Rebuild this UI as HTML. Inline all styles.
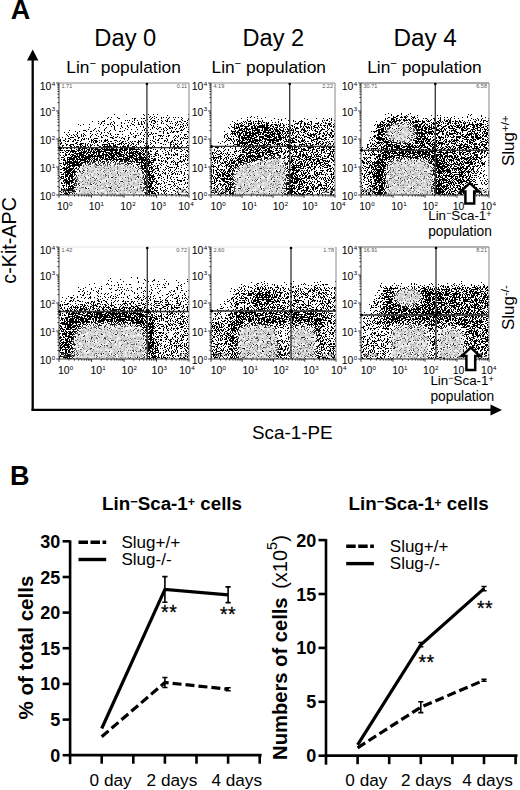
<!DOCTYPE html>
<html><head><meta charset="utf-8"><style>
html,body{margin:0;padding:0;background:#fff;}
svg{display:block;font-family:"Liberation Sans", sans-serif;}
</style></head><body>
<svg width="520" height="790" viewBox="0 0 520 790">
<defs><filter id="stip" x="0" y="0" width="1" height="1" color-interpolation-filters="sRGB">
<feTurbulence type="fractalNoise" baseFrequency="1.3" numOctaves="1" seed="3" result="n"/>
<feColorMatrix in="n" type="matrix" values="1 0 0 0 0  1 0 0 0 0  1 0 0 0 0  0 0 0 0 1" result="nr"/>
<feComponentTransfer in="SourceGraphic" result="t"><feFuncR type="table" tableValues="0.000 0.318 0.357 0.384 0.408 0.431 0.447 0.459 0.475 0.486 0.498 0.514 0.529 0.541 0.557 0.573 0.592 0.616 0.643 0.678 1.000"/><feFuncG type="table" tableValues="0.000 0.318 0.357 0.384 0.408 0.431 0.447 0.459 0.475 0.486 0.498 0.514 0.529 0.541 0.557 0.573 0.592 0.616 0.643 0.678 1.000"/><feFuncB type="table" tableValues="0.000 0.318 0.357 0.384 0.408 0.431 0.447 0.459 0.475 0.486 0.498 0.514 0.529 0.541 0.557 0.573 0.592 0.616 0.643 0.678 1.000"/></feComponentTransfer>
<feComposite in="t" in2="nr" operator="arithmetic" k1="0" k2="1" k3="1" k4="-0.5" result="s"/>
<feComponentTransfer in="s" result="b"><feFuncR type="discrete" tableValues="0 1"/><feFuncG type="discrete" tableValues="0 1"/><feFuncB type="discrete" tableValues="0 1"/><feFuncA type="linear" slope="0" intercept="1"/></feComponentTransfer>
<feGaussianBlur in="b" stdDeviation="0.65"/>
</filter><filter id="bl3" x="-0.5" y="-0.5" width="2" height="2"><feGaussianBlur stdDeviation="3"/></filter><filter id="bl5" x="-0.5" y="-0.5" width="2" height="2"><feGaussianBlur stdDeviation="5"/></filter><filter id="bl2" x="-0.5" y="-0.5" width="2" height="2"><feGaussianBlur stdDeviation="2"/></filter><clipPath id="cp0"><rect x="59" y="83" width="130" height="112"/></clipPath><filter id="b6" x="-0.5" y="-0.5" width="2" height="2"><feGaussianBlur stdDeviation="6"/></filter><filter id="b4" x="-0.5" y="-0.5" width="2" height="2"><feGaussianBlur stdDeviation="4"/></filter><filter id="b5" x="-0.5" y="-0.5" width="2" height="2"><feGaussianBlur stdDeviation="5"/></filter><filter id="b3" x="-0.5" y="-0.5" width="2" height="2"><feGaussianBlur stdDeviation="3"/></filter><filter id="b2_5" x="-0.5" y="-0.5" width="2" height="2"><feGaussianBlur stdDeviation="2.5"/></filter><filter id="m2_5_0_65" x="-0.5" y="-0.5" width="2" height="2" color-interpolation-filters="sRGB"><feGaussianBlur in="SourceGraphic" stdDeviation="2.5" result="b"/><feTurbulence type="fractalNoise" baseFrequency="0.3" numOctaves="2" seed="11" result="n"/><feColorMatrix in="n" type="matrix" values="0 0 0 0 0.8 0 0 0 0 0.8 0 0 0 0 0.8 2.2 0 0 0 -0.450" result="na"/><feComposite in="na" in2="b" operator="in"/></filter><clipPath id="cp1"><rect x="211" y="83" width="124" height="112"/></clipPath><filter id="b3_5" x="-0.5" y="-0.5" width="2" height="2"><feGaussianBlur stdDeviation="3.5"/></filter><filter id="m2_0_65" x="-0.5" y="-0.5" width="2" height="2" color-interpolation-filters="sRGB"><feGaussianBlur in="SourceGraphic" stdDeviation="2" result="b"/><feTurbulence type="fractalNoise" baseFrequency="0.3" numOctaves="2" seed="11" result="n"/><feColorMatrix in="n" type="matrix" values="0 0 0 0 0.8 0 0 0 0 0.8 0 0 0 0 0.8 2.2 0 0 0 -0.450" result="na"/><feComposite in="na" in2="b" operator="in"/></filter><clipPath id="cp2"><rect x="361" y="83" width="128" height="112"/></clipPath><filter id="m2_0_6" x="-0.5" y="-0.5" width="2" height="2" color-interpolation-filters="sRGB"><feGaussianBlur in="SourceGraphic" stdDeviation="2" result="b"/><feTurbulence type="fractalNoise" baseFrequency="0.3" numOctaves="2" seed="11" result="n"/><feColorMatrix in="n" type="matrix" values="0 0 0 0 0.8 0 0 0 0 0.8 0 0 0 0 0.8 2.2 0 0 0 -0.500" result="na"/><feComposite in="na" in2="b" operator="in"/></filter><clipPath id="cp3"><rect x="59" y="247" width="130" height="112"/></clipPath><clipPath id="cp4"><rect x="211" y="247" width="125" height="112"/></clipPath><filter id="m2_0_62" x="-0.5" y="-0.5" width="2" height="2" color-interpolation-filters="sRGB"><feGaussianBlur in="SourceGraphic" stdDeviation="2" result="b"/><feTurbulence type="fractalNoise" baseFrequency="0.3" numOctaves="2" seed="11" result="n"/><feColorMatrix in="n" type="matrix" values="0 0 0 0 0.8 0 0 0 0 0.8 0 0 0 0 0.8 2.2 0 0 0 -0.480" result="na"/><feComposite in="na" in2="b" operator="in"/></filter><clipPath id="cp5"><rect x="361" y="247" width="128" height="112"/></clipPath></defs>
<rect width="520" height="790" fill="#fff"/>
<text x="10.8" y="19.4" font-size="27" font-weight="bold" text-anchor="start" fill="#000" >A</text>
<text x="94.3" y="45.8" font-size="23" font-weight="normal" text-anchor="start" fill="#000" textLength="62" lengthAdjust="spacingAndGlyphs" >Day 0</text>
<text x="242.6" y="45.8" font-size="23" font-weight="normal" text-anchor="start" fill="#000" textLength="61.5" lengthAdjust="spacingAndGlyphs" >Day 2</text>
<text x="393.4" y="45.8" font-size="23" font-weight="normal" text-anchor="start" fill="#000" textLength="63.5" lengthAdjust="spacingAndGlyphs" >Day 4</text>
<text x="66.3" y="73" font-size="17" textLength="114.5" lengthAdjust="spacingAndGlyphs">Lin<tspan font-size="11" dy="-6">&#8722;</tspan><tspan dy="6"> population</tspan></text>
<text x="211.5" y="73" font-size="17" textLength="114.5" lengthAdjust="spacingAndGlyphs">Lin<tspan font-size="11" dy="-6">&#8722;</tspan><tspan dy="6"> population</tspan></text>
<text x="367.2" y="73" font-size="17" textLength="114.5" lengthAdjust="spacingAndGlyphs">Lin<tspan font-size="11" dy="-6">&#8722;</tspan><tspan dy="6"> population</tspan></text>
<line x1="32.7" y1="56" x2="32.7" y2="410.5" stroke="#000" stroke-width="2.3"/>
<path d="M32.7 49.5 L27 60.5 L38.4 60.5 Z" fill="#000"/>
<line x1="31.5" y1="409.8" x2="492" y2="409.8" stroke="#000" stroke-width="2.3"/>
<path d="M502 410 L490.5 404.6 L490.5 415.4 Z" fill="#000"/>
<text x="16.3" y="240.4" font-size="19.5" text-anchor="middle" transform="rotate(-90 16.3 240.4)" textLength="86.5" lengthAdjust="spacingAndGlyphs">c-Kit-APC</text>
<text x="252" y="438.5" font-size="18.5" font-weight="normal" text-anchor="start" fill="#000" textLength="80.7" lengthAdjust="spacingAndGlyphs" >Sca-1-PE</text>
<text transform="translate(514.4 166.1) rotate(-90)" x="0" y="0" font-size="17">Slug<tspan font-size="11.5" dy="-5.3">+/+</tspan></text>
<text transform="translate(514.4 330.0) rotate(-90)" x="0" y="0" font-size="17">Slug<tspan font-size="11.5" dy="-5.3">-/-</tspan></text>
<g clip-path="url(#cp0)"><g filter="url(#stip)">
<rect x="49" y="73" width="150" height="132" fill="#fff"/>
<rect x="54" y="103" width="140" height="100" fill="rgb(249,249,249)" filter="url(#b6)"/>
<path transform="translate(59 83)" d="M-5 62 Q10 44 45 36 Q90 30 140 36 L140 120 L-5 120 Z" fill="rgb(224,224,224)" filter="url(#b4)"/>
<rect x="54" y="137" width="140" height="70" fill="rgb(178,178,178)" filter="url(#b4)"/>
<rect x="151" y="123" width="45" height="80" fill="rgb(189,189,189)" filter="url(#b5)"/>
<rect x="171" y="168" width="30" height="40" fill="rgb(204,204,204)" filter="url(#b5)"/>
<path transform="translate(59 83)" d="M5 118 V88 Q5 64 29 64 H70 Q94 64 94 88 V118 Z" fill="rgb(61,61,61)" filter="url(#b3)"/>
<path transform="translate(59 83)" d="M16 118 V97 Q16 79 34 79 H68 Q86 79 86 97 V118 Z" fill="rgb(204,204,204)" filter="url(#b2_5)"/>
</g>
<path transform="translate(59 83)" d="M18 116 V97 Q18 81 34 81 H68 Q84 81 84 97 V116 Z" fill="#000" filter="url(#m2_5_0_65)"/>
</g>
<line x1="59" y1="83" x2="189" y2="83" stroke="#888" stroke-width="1"/>
<line x1="189" y1="83" x2="189" y2="195" stroke="#888" stroke-width="1"/>
<line x1="59" y1="83" x2="59" y2="195" stroke="#444" stroke-width="1"/>
<line x1="59" y1="195" x2="189" y2="195" stroke="#333" stroke-width="1.2"/>
<line x1="146.9" y1="83" x2="146.9" y2="195" stroke="#333" stroke-width="1.3"/>
<line x1="59" y1="147.7" x2="189" y2="147.7" stroke="#333" stroke-width="1.3"/>
<circle cx="146.9" cy="147.7" r="2" fill="#000"/>
<circle cx="59.5" cy="147.7" r="1.5" fill="#000"/>
<circle cx="146.9" cy="84" r="1.3" fill="#000"/>
<path d="M56.2 195.0H59 M59.0 195V197.8 M57.4 186.6H59 M68.8 195V196.6 M57.4 181.6H59 M74.5 195V196.6 M57.4 178.1H59 M78.6 195V196.6 M57.4 175.4H59 M81.7 195V196.6 M57.4 173.2H59 M84.3 195V196.6 M57.4 171.3H59 M86.5 195V196.6 M57.4 169.7H59 M88.4 195V196.6 M57.4 168.3H59 M90.0 195V196.6 M56.2 167.0H59 M91.5 195V197.8 M57.4 158.6H59 M101.3 195V196.6 M57.4 153.6H59 M107.0 195V196.6 M57.4 150.1H59 M111.1 195V196.6 M57.4 147.4H59 M114.2 195V196.6 M57.4 145.2H59 M116.8 195V196.6 M57.4 143.3H59 M119.0 195V196.6 M57.4 141.7H59 M120.9 195V196.6 M57.4 140.3H59 M122.5 195V196.6 M56.2 139.0H59 M124.0 195V197.8 M57.4 130.6H59 M133.8 195V196.6 M57.4 125.6H59 M139.5 195V196.6 M57.4 122.1H59 M143.6 195V196.6 M57.4 119.4H59 M146.7 195V196.6 M57.4 117.2H59 M149.3 195V196.6 M57.4 115.3H59 M151.5 195V196.6 M57.4 113.7H59 M153.4 195V196.6 M57.4 112.3H59 M155.0 195V196.6 M56.2 111.0H59 M156.5 195V197.8 M57.4 102.6H59 M166.3 195V196.6 M57.4 97.6H59 M172.0 195V196.6 M57.4 94.1H59 M176.1 195V196.6 M57.4 91.4H59 M179.2 195V196.6 M57.4 89.2H59 M181.8 195V196.6 M57.4 87.3H59 M184.0 195V196.6 M57.4 85.7H59 M185.9 195V196.6 M57.4 84.3H59 M187.5 195V196.6 M56.2 83H59 M189 195V197.8" stroke="#222" stroke-width="0.9" fill="none"/>
<text x="39.8" y="200.1" font-size="10" textLength="11.6" lengthAdjust="spacingAndGlyphs">10</text>
<text x="51.8" y="195.7" font-size="6.2">0</text>
<text x="39.8" y="171.9" font-size="10" textLength="11.6" lengthAdjust="spacingAndGlyphs">10</text>
<text x="51.8" y="167.5" font-size="6.2">1</text>
<text x="39.8" y="144.3" font-size="10" textLength="11.6" lengthAdjust="spacingAndGlyphs">10</text>
<text x="51.8" y="139.9" font-size="6.2">2</text>
<text x="39.8" y="115.8" font-size="10" textLength="11.6" lengthAdjust="spacingAndGlyphs">10</text>
<text x="51.8" y="111.4" font-size="6.2">3</text>
<text x="39.8" y="90.2" font-size="10" textLength="11.6" lengthAdjust="spacingAndGlyphs">10</text>
<text x="51.8" y="85.8" font-size="6.2">4</text>
<text x="57.0" y="210.2" font-size="10" textLength="11.6" lengthAdjust="spacingAndGlyphs">10</text>
<text x="68.9" y="205.8" font-size="6.2">0</text>
<text x="88.7" y="210.2" font-size="10" textLength="11.6" lengthAdjust="spacingAndGlyphs">10</text>
<text x="100.6" y="205.8" font-size="6.2">1</text>
<text x="120.3" y="210.2" font-size="10" textLength="11.6" lengthAdjust="spacingAndGlyphs">10</text>
<text x="132.2" y="205.8" font-size="6.2">2</text>
<text x="150.6" y="210.2" font-size="10" textLength="11.6" lengthAdjust="spacingAndGlyphs">10</text>
<text x="162.5" y="205.8" font-size="6.2">3</text>
<text x="178.3" y="210.2" font-size="10" textLength="11.6" lengthAdjust="spacingAndGlyphs">10</text>
<text x="190.2" y="205.8" font-size="6.2">4</text>
<g font-size="5.5" fill="#555"><text x="61.5" y="88.2">1.71</text><text x="187" y="88.2" text-anchor="end">0.11</text><text x="61.5" y="193">65.02</text><text x="187" y="193" text-anchor="end">2.81</text></g>
<g clip-path="url(#cp1)"><g filter="url(#stip)">
<rect x="201" y="73" width="144" height="132" fill="#fff"/>
<rect x="206" y="103" width="140" height="100" fill="rgb(249,249,249)" filter="url(#b6)"/>
<path transform="translate(211 83)" d="M-5 78 Q8 58 25 44 Q60 39 140 41 L140 120 L-5 120 Z" fill="rgb(199,199,199)" filter="url(#b3)"/>
<rect x="238" y="125" width="105" height="24" fill="rgb(122,122,122)" filter="url(#b3_5)"/>
<rect x="293" y="125" width="50" height="22" fill="rgb(153,153,153)" filter="url(#b3_5)"/>
<ellipse cx="255" cy="135" rx="22" ry="12" fill="rgb(76,76,76)" filter="url(#b4)"/>
<rect x="287" y="145" width="50" height="58" fill="rgb(128,128,128)" filter="url(#b4)"/>
<rect x="315" y="163" width="25" height="40" fill="rgb(158,158,158)" filter="url(#b4)"/>
<rect x="206" y="153" width="22" height="50" fill="rgb(158,158,158)" filter="url(#b4)"/>
<ellipse cx="261" cy="180" rx="36" ry="30" fill="rgb(51,51,51)" filter="url(#b3)"/>
<path transform="translate(211 83)" d="M22 120 L22 90 Q23 81 33 80 L66 73 Q76 72 76 81 L75 120 Z" fill="rgb(199,199,199)" filter="url(#b2_5)"/>
</g>
<path transform="translate(211 83)" d="M24 120 L24 90 Q25 83 34 82 L65 75 Q74 74 74 82 L73 120 Z" fill="#000" filter="url(#m2_0_65)"/>
</g>
<line x1="211" y1="83" x2="335" y2="83" stroke="#888" stroke-width="1"/>
<line x1="335" y1="83" x2="335" y2="195" stroke="#888" stroke-width="1"/>
<line x1="211" y1="83" x2="211" y2="195" stroke="#444" stroke-width="1"/>
<line x1="211" y1="195" x2="335" y2="195" stroke="#333" stroke-width="1.2"/>
<line x1="289.7" y1="83" x2="289.7" y2="195" stroke="#333" stroke-width="1.3"/>
<line x1="211" y1="146.4" x2="335" y2="146.4" stroke="#333" stroke-width="1.3"/>
<circle cx="289.7" cy="146.4" r="2" fill="#000"/>
<circle cx="211.5" cy="146.4" r="1.5" fill="#000"/>
<circle cx="289.7" cy="84" r="1.3" fill="#000"/>
<path d="M208.2 195.0H211 M211.0 195V197.8 M209.4 186.6H211 M220.3 195V196.6 M209.4 181.6H211 M225.8 195V196.6 M209.4 178.1H211 M229.7 195V196.6 M209.4 175.4H211 M232.7 195V196.6 M209.4 173.2H211 M235.1 195V196.6 M209.4 171.3H211 M237.2 195V196.6 M209.4 169.7H211 M239.0 195V196.6 M209.4 168.3H211 M240.6 195V196.6 M208.2 167.0H211 M242.0 195V197.8 M209.4 158.6H211 M251.3 195V196.6 M209.4 153.6H211 M256.8 195V196.6 M209.4 150.1H211 M260.7 195V196.6 M209.4 147.4H211 M263.7 195V196.6 M209.4 145.2H211 M266.1 195V196.6 M209.4 143.3H211 M268.2 195V196.6 M209.4 141.7H211 M270.0 195V196.6 M209.4 140.3H211 M271.6 195V196.6 M208.2 139.0H211 M273.0 195V197.8 M209.4 130.6H211 M282.3 195V196.6 M209.4 125.6H211 M287.8 195V196.6 M209.4 122.1H211 M291.7 195V196.6 M209.4 119.4H211 M294.7 195V196.6 M209.4 117.2H211 M297.1 195V196.6 M209.4 115.3H211 M299.2 195V196.6 M209.4 113.7H211 M301.0 195V196.6 M209.4 112.3H211 M302.6 195V196.6 M208.2 111.0H211 M304.0 195V197.8 M209.4 102.6H211 M313.3 195V196.6 M209.4 97.6H211 M318.8 195V196.6 M209.4 94.1H211 M322.7 195V196.6 M209.4 91.4H211 M325.7 195V196.6 M209.4 89.2H211 M328.1 195V196.6 M209.4 87.3H211 M330.2 195V196.6 M209.4 85.7H211 M332.0 195V196.6 M209.4 84.3H211 M333.6 195V196.6 M208.2 83H211 M335 195V197.8" stroke="#222" stroke-width="0.9" fill="none"/>
<text x="191.8" y="200.1" font-size="10" textLength="11.6" lengthAdjust="spacingAndGlyphs">10</text>
<text x="203.8" y="195.7" font-size="6.2">0</text>
<text x="191.8" y="171.9" font-size="10" textLength="11.6" lengthAdjust="spacingAndGlyphs">10</text>
<text x="203.8" y="167.5" font-size="6.2">1</text>
<text x="191.8" y="144.3" font-size="10" textLength="11.6" lengthAdjust="spacingAndGlyphs">10</text>
<text x="203.8" y="139.9" font-size="6.2">2</text>
<text x="191.8" y="115.8" font-size="10" textLength="11.6" lengthAdjust="spacingAndGlyphs">10</text>
<text x="203.8" y="111.4" font-size="6.2">3</text>
<text x="191.8" y="90.2" font-size="10" textLength="11.6" lengthAdjust="spacingAndGlyphs">10</text>
<text x="203.8" y="85.8" font-size="6.2">4</text>
<text x="210.4" y="210.2" font-size="10" textLength="11.6" lengthAdjust="spacingAndGlyphs">10</text>
<text x="222.3" y="205.8" font-size="6.2">0</text>
<text x="241.6" y="210.2" font-size="10" textLength="11.6" lengthAdjust="spacingAndGlyphs">10</text>
<text x="253.5" y="205.8" font-size="6.2">1</text>
<text x="272.8" y="210.2" font-size="10" textLength="11.6" lengthAdjust="spacingAndGlyphs">10</text>
<text x="284.7" y="205.8" font-size="6.2">2</text>
<text x="302.2" y="210.2" font-size="10" textLength="11.6" lengthAdjust="spacingAndGlyphs">10</text>
<text x="314.1" y="205.8" font-size="6.2">3</text>
<text x="330.2" y="210.2" font-size="10" textLength="11.6" lengthAdjust="spacingAndGlyphs">10</text>
<text x="342.1" y="205.8" font-size="6.2">4</text>
<g font-size="5.5" fill="#555"><text x="213.5" y="88.2">4.19</text><text x="333" y="88.2" text-anchor="end">2.22</text><text x="213.5" y="193">81.15</text><text x="333" y="193" text-anchor="end">10.8</text></g>
<g clip-path="url(#cp2)"><g filter="url(#stip)">
<rect x="351" y="73" width="148" height="132" fill="#fff"/>
<rect x="356" y="103" width="140" height="100" fill="rgb(249,249,249)" filter="url(#b6)"/>
<path transform="translate(361 83)" d="M-5 100 Q4 60 18 42 Q60 37 140 38 L140 120 L-5 120 Z" fill="rgb(178,178,178)" filter="url(#b3)"/>
<path transform="translate(361 83)" d="M20 66 Q18 45 30 40 L128 40 L128 120 L20 120 Z" fill="rgb(115,115,115)" filter="url(#b3_5)"/>
<rect x="435" y="151" width="56" height="52" fill="rgb(115,115,115)" filter="url(#b4)"/>
<path transform="translate(361 83)" d="M98 118 L134 60 L134 118 Z" fill="rgb(217,217,217)" filter="url(#b4)"/>
<rect x="356" y="155" width="22" height="50" fill="rgb(173,173,173)" filter="url(#b4)"/>
<rect x="423" y="123" width="70" height="30" fill="rgb(133,133,133)" filter="url(#b4)"/>
<ellipse cx="401" cy="133" rx="24" ry="16" fill="rgb(46,46,46)" filter="url(#b3)"/>
<ellipse cx="401" cy="133" rx="16" ry="11" fill="rgb(204,204,204)" filter="url(#b2_5)"/>
<path transform="translate(361 83)" d="M13 120 V86 Q13 66 33 66 H62 Q82 66 82 86 V120 Z" fill="rgb(43,43,43)" filter="url(#b3)"/>
<path transform="translate(361 83)" d="M24 120 V90 Q24 75 39 75 H58 Q73 75 73 90 V120 Z" fill="rgb(199,199,199)" filter="url(#b2_5)"/>
</g>
<ellipse cx="401" cy="133" rx="14.5" ry="9.5" fill="#000" filter="url(#m2_0_6)"/>
<path transform="translate(361 83)" d="M26 116 V91 Q26 77 40 77 H57 Q71 77 71 91 V116 Z" fill="#000" filter="url(#m2_0_65)"/>
</g>
<line x1="361" y1="83" x2="489" y2="83" stroke="#555" stroke-width="1"/>
<line x1="489" y1="83" x2="489" y2="195" stroke="#888" stroke-width="1"/>
<line x1="361" y1="83" x2="361" y2="195" stroke="#444" stroke-width="1"/>
<line x1="361" y1="195" x2="489" y2="195" stroke="#333" stroke-width="1.2"/>
<line x1="435.3" y1="83" x2="435.3" y2="195" stroke="#333" stroke-width="1.3"/>
<line x1="361" y1="150.3" x2="489" y2="150.3" stroke="#333" stroke-width="1.3"/>
<circle cx="435.3" cy="150.3" r="2" fill="#000"/>
<circle cx="361.5" cy="150.3" r="1.5" fill="#000"/>
<circle cx="435.3" cy="84" r="1.3" fill="#000"/>
<path d="M358.2 195.0H361 M361.0 195V197.8 M359.4 186.6H361 M370.6 195V196.6 M359.4 181.6H361 M376.3 195V196.6 M359.4 178.1H361 M380.3 195V196.6 M359.4 175.4H361 M383.4 195V196.6 M359.4 173.2H361 M385.9 195V196.6 M359.4 171.3H361 M388.0 195V196.6 M359.4 169.7H361 M389.9 195V196.6 M359.4 168.3H361 M391.5 195V196.6 M358.2 167.0H361 M393.0 195V197.8 M359.4 158.6H361 M402.6 195V196.6 M359.4 153.6H361 M408.3 195V196.6 M359.4 150.1H361 M412.3 195V196.6 M359.4 147.4H361 M415.4 195V196.6 M359.4 145.2H361 M417.9 195V196.6 M359.4 143.3H361 M420.0 195V196.6 M359.4 141.7H361 M421.9 195V196.6 M359.4 140.3H361 M423.5 195V196.6 M358.2 139.0H361 M425.0 195V197.8 M359.4 130.6H361 M434.6 195V196.6 M359.4 125.6H361 M440.3 195V196.6 M359.4 122.1H361 M444.3 195V196.6 M359.4 119.4H361 M447.4 195V196.6 M359.4 117.2H361 M449.9 195V196.6 M359.4 115.3H361 M452.0 195V196.6 M359.4 113.7H361 M453.9 195V196.6 M359.4 112.3H361 M455.5 195V196.6 M358.2 111.0H361 M457.0 195V197.8 M359.4 102.6H361 M466.6 195V196.6 M359.4 97.6H361 M472.3 195V196.6 M359.4 94.1H361 M476.3 195V196.6 M359.4 91.4H361 M479.4 195V196.6 M359.4 89.2H361 M481.9 195V196.6 M359.4 87.3H361 M484.0 195V196.6 M359.4 85.7H361 M485.9 195V196.6 M359.4 84.3H361 M487.5 195V196.6 M358.2 83H361 M489 195V197.8" stroke="#222" stroke-width="0.9" fill="none"/>
<text x="341.8" y="200.1" font-size="10" textLength="11.6" lengthAdjust="spacingAndGlyphs">10</text>
<text x="353.8" y="195.7" font-size="6.2">0</text>
<text x="341.8" y="171.9" font-size="10" textLength="11.6" lengthAdjust="spacingAndGlyphs">10</text>
<text x="353.8" y="167.5" font-size="6.2">1</text>
<text x="341.8" y="144.3" font-size="10" textLength="11.6" lengthAdjust="spacingAndGlyphs">10</text>
<text x="353.8" y="139.9" font-size="6.2">2</text>
<text x="341.8" y="115.8" font-size="10" textLength="11.6" lengthAdjust="spacingAndGlyphs">10</text>
<text x="353.8" y="111.4" font-size="6.2">3</text>
<text x="341.8" y="90.2" font-size="10" textLength="11.6" lengthAdjust="spacingAndGlyphs">10</text>
<text x="353.8" y="85.8" font-size="6.2">4</text>
<text x="359.3" y="210.2" font-size="10" textLength="11.6" lengthAdjust="spacingAndGlyphs">10</text>
<text x="371.2" y="205.8" font-size="6.2">0</text>
<text x="391.3" y="210.2" font-size="10" textLength="11.6" lengthAdjust="spacingAndGlyphs">10</text>
<text x="403.2" y="205.8" font-size="6.2">1</text>
<text x="422.5" y="210.2" font-size="10" textLength="11.6" lengthAdjust="spacingAndGlyphs">10</text>
<text x="434.4" y="205.8" font-size="6.2">2</text>
<text x="452.8" y="210.2" font-size="10" textLength="11.6" lengthAdjust="spacingAndGlyphs">10</text>
<text x="480.5" y="210.2" font-size="10" textLength="11.6" lengthAdjust="spacingAndGlyphs">10</text>
<text x="492.4" y="205.8" font-size="6.2">4</text>
<g font-size="5.5" fill="#555"><text x="363.5" y="88.2">30.71</text><text x="487" y="88.2" text-anchor="end">6.58</text><text x="363.5" y="193">53.5</text><text x="487" y="193" text-anchor="end">9.0</text></g>
<g clip-path="url(#cp3)"><g filter="url(#stip)">
<rect x="49" y="237" width="150" height="132" fill="#fff"/>
<rect x="54" y="267" width="140" height="100" fill="rgb(249,249,249)" filter="url(#b6)"/>
<path transform="translate(59 247)" d="M-5 62 Q10 42 45 35 Q90 30 140 36 L140 120 L-5 120 Z" fill="rgb(224,224,224)" filter="url(#b4)"/>
<rect x="54" y="300" width="140" height="70" fill="rgb(171,171,171)" filter="url(#b4)"/>
<rect x="154" y="317" width="40" height="50" fill="rgb(178,178,178)" filter="url(#b5)"/>
<path transform="translate(59 247)" d="M3 118 V84 Q3 62 25 62 H75 Q97 62 97 84 V118 Z" fill="rgb(61,61,61)" filter="url(#b3)"/>
<path transform="translate(59 247)" d="M14 118 V95 Q14 77 32 77 H70 Q88 77 88 95 V118 Z" fill="rgb(204,204,204)" filter="url(#b2_5)"/>
</g>
<path transform="translate(59 247)" d="M16 116 V95 Q16 79 32 79 H70 Q86 79 86 95 V116 Z" fill="#000" filter="url(#m2_5_0_65)"/>
</g>
<line x1="59" y1="247" x2="189" y2="247" stroke="#e6e6e6" stroke-width="1"/>
<line x1="189" y1="247" x2="189" y2="359" stroke="#888" stroke-width="1"/>
<line x1="59" y1="247" x2="59" y2="359" stroke="#444" stroke-width="1"/>
<line x1="59" y1="359" x2="189" y2="359" stroke="#333" stroke-width="1.2"/>
<line x1="147.3" y1="247" x2="147.3" y2="359" stroke="#333" stroke-width="1.3"/>
<line x1="59" y1="311.5" x2="189" y2="311.5" stroke="#333" stroke-width="1.3"/>
<circle cx="147.3" cy="311.5" r="2" fill="#000"/>
<circle cx="59.5" cy="311.5" r="1.5" fill="#000"/>
<circle cx="147.3" cy="248" r="1.3" fill="#000"/>
<path d="M56.2 359.0H59 M59.0 359V361.8 M57.4 350.6H59 M68.8 359V360.6 M57.4 345.6H59 M74.5 359V360.6 M57.4 342.1H59 M78.6 359V360.6 M57.4 339.4H59 M81.7 359V360.6 M57.4 337.2H59 M84.3 359V360.6 M57.4 335.3H59 M86.5 359V360.6 M57.4 333.7H59 M88.4 359V360.6 M57.4 332.3H59 M90.0 359V360.6 M56.2 331.0H59 M91.5 359V361.8 M57.4 322.6H59 M101.3 359V360.6 M57.4 317.6H59 M107.0 359V360.6 M57.4 314.1H59 M111.1 359V360.6 M57.4 311.4H59 M114.2 359V360.6 M57.4 309.2H59 M116.8 359V360.6 M57.4 307.3H59 M119.0 359V360.6 M57.4 305.7H59 M120.9 359V360.6 M57.4 304.3H59 M122.5 359V360.6 M56.2 303.0H59 M124.0 359V361.8 M57.4 294.6H59 M133.8 359V360.6 M57.4 289.6H59 M139.5 359V360.6 M57.4 286.1H59 M143.6 359V360.6 M57.4 283.4H59 M146.7 359V360.6 M57.4 281.2H59 M149.3 359V360.6 M57.4 279.3H59 M151.5 359V360.6 M57.4 277.7H59 M153.4 359V360.6 M57.4 276.3H59 M155.0 359V360.6 M56.2 275.0H59 M156.5 359V361.8 M57.4 266.6H59 M166.3 359V360.6 M57.4 261.6H59 M172.0 359V360.6 M57.4 258.1H59 M176.1 359V360.6 M57.4 255.4H59 M179.2 359V360.6 M57.4 253.2H59 M181.8 359V360.6 M57.4 251.3H59 M184.0 359V360.6 M57.4 249.7H59 M185.9 359V360.6 M57.4 248.3H59 M187.5 359V360.6 M56.2 247H59 M189 359V361.8" stroke="#222" stroke-width="0.9" fill="none"/>
<text x="39.8" y="364.1" font-size="10" textLength="11.6" lengthAdjust="spacingAndGlyphs">10</text>
<text x="51.8" y="359.7" font-size="6.2">0</text>
<text x="39.8" y="335.9" font-size="10" textLength="11.6" lengthAdjust="spacingAndGlyphs">10</text>
<text x="51.8" y="331.5" font-size="6.2">1</text>
<text x="39.8" y="308.3" font-size="10" textLength="11.6" lengthAdjust="spacingAndGlyphs">10</text>
<text x="51.8" y="303.9" font-size="6.2">2</text>
<text x="39.8" y="279.8" font-size="10" textLength="11.6" lengthAdjust="spacingAndGlyphs">10</text>
<text x="51.8" y="275.4" font-size="6.2">3</text>
<text x="39.8" y="254.2" font-size="10" textLength="11.6" lengthAdjust="spacingAndGlyphs">10</text>
<text x="51.8" y="249.8" font-size="6.2">4</text>
<text x="57.9" y="374.2" font-size="10" textLength="11.6" lengthAdjust="spacingAndGlyphs">10</text>
<text x="69.8" y="369.8" font-size="6.2">0</text>
<text x="90.4" y="374.2" font-size="10" textLength="11.6" lengthAdjust="spacingAndGlyphs">10</text>
<text x="102.3" y="369.8" font-size="6.2">1</text>
<text x="121.6" y="374.2" font-size="10" textLength="11.6" lengthAdjust="spacingAndGlyphs">10</text>
<text x="133.5" y="369.8" font-size="6.2">2</text>
<text x="151.6" y="374.2" font-size="10" textLength="11.6" lengthAdjust="spacingAndGlyphs">10</text>
<text x="163.5" y="369.8" font-size="6.2">3</text>
<text x="179.3" y="374.2" font-size="10" textLength="11.6" lengthAdjust="spacingAndGlyphs">10</text>
<text x="191.2" y="369.8" font-size="6.2">4</text>
<g font-size="5.5" fill="#555"><text x="61.5" y="252.2">1.42</text><text x="187" y="252.2" text-anchor="end">0.72</text><text x="61.5" y="357">52.42</text><text x="187" y="357" text-anchor="end">4.6</text></g>
<g clip-path="url(#cp4)"><g filter="url(#stip)">
<rect x="201" y="237" width="145" height="132" fill="#fff"/>
<rect x="206" y="267" width="140" height="100" fill="rgb(249,249,249)" filter="url(#b6)"/>
<path transform="translate(211 247)" d="M-5 90 Q6 60 25 44 Q70 38 140 39 L140 120 L-5 120 Z" fill="rgb(189,189,189)" filter="url(#b3)"/>
<rect x="237" y="288" width="105" height="24" fill="rgb(158,158,158)" filter="url(#b3_5)"/>
<ellipse cx="264" cy="298" rx="12" ry="9" fill="rgb(64,64,64)" filter="url(#b3)"/>
<rect x="231" y="310" width="95" height="16" fill="rgb(92,92,92)" filter="url(#b3)"/>
<path transform="translate(211 247)" d="M18 120 V84 Q18 70 32 70 H98 Q112 70 112 84 V120 Z" fill="rgb(71,71,71)" filter="url(#b3)"/>
<rect x="206" y="317" width="18" height="50" fill="rgb(153,153,153)" filter="url(#b4)"/>
<rect x="323" y="322" width="30" height="50" fill="rgb(153,153,153)" filter="url(#b4)"/>
<path transform="translate(211 247)" d="M26 118 V89 Q26 77 38 77 H94 Q106 77 106 89 V118 Z" fill="rgb(194,194,194)" filter="url(#b2_5)"/>
<ellipse cx="283" cy="353" rx="9" ry="12" fill="rgb(115,115,115)" filter="url(#b3)"/>
</g>
<path transform="translate(211 247)" d="M28 116 V90 Q28 79 39 79 H55 Q66 79 66 90 V116 Z" fill="#000" filter="url(#m2_0_62)"/>
<path transform="translate(211 247)" d="M79 116 V89 Q79 80 88 80 H95 Q104 80 104 89 V116 Z" fill="#000" filter="url(#m2_0_62)"/>
</g>
<line x1="211" y1="247" x2="336" y2="247" stroke="#e6e6e6" stroke-width="1"/>
<line x1="336" y1="247" x2="336" y2="359" stroke="#888" stroke-width="1"/>
<line x1="211" y1="247" x2="211" y2="359" stroke="#444" stroke-width="1"/>
<line x1="211" y1="359" x2="336" y2="359" stroke="#333" stroke-width="1.2"/>
<line x1="291" y1="247" x2="291" y2="359" stroke="#333" stroke-width="1.3"/>
<line x1="211" y1="311" x2="336" y2="311" stroke="#333" stroke-width="1.3"/>
<circle cx="291" cy="311" r="2" fill="#000"/>
<circle cx="211.5" cy="311" r="1.5" fill="#000"/>
<circle cx="291" cy="248" r="1.3" fill="#000"/>
<path d="M208.2 359.0H211 M211.0 359V361.8 M209.4 350.6H211 M220.4 359V360.6 M209.4 345.6H211 M225.9 359V360.6 M209.4 342.1H211 M229.8 359V360.6 M209.4 339.4H211 M232.8 359V360.6 M209.4 337.2H211 M235.3 359V360.6 M209.4 335.3H211 M237.4 359V360.6 M209.4 333.7H211 M239.2 359V360.6 M209.4 332.3H211 M240.8 359V360.6 M208.2 331.0H211 M242.2 359V361.8 M209.4 322.6H211 M251.7 359V360.6 M209.4 317.6H211 M257.2 359V360.6 M209.4 314.1H211 M261.1 359V360.6 M209.4 311.4H211 M264.1 359V360.6 M209.4 309.2H211 M266.6 359V360.6 M209.4 307.3H211 M268.7 359V360.6 M209.4 305.7H211 M270.5 359V360.6 M209.4 304.3H211 M272.1 359V360.6 M208.2 303.0H211 M273.5 359V361.8 M209.4 294.6H211 M282.9 359V360.6 M209.4 289.6H211 M288.4 359V360.6 M209.4 286.1H211 M292.3 359V360.6 M209.4 283.4H211 M295.3 359V360.6 M209.4 281.2H211 M297.8 359V360.6 M209.4 279.3H211 M299.9 359V360.6 M209.4 277.7H211 M301.7 359V360.6 M209.4 276.3H211 M303.3 359V360.6 M208.2 275.0H211 M304.8 359V361.8 M209.4 266.6H211 M314.2 359V360.6 M209.4 261.6H211 M319.7 359V360.6 M209.4 258.1H211 M323.6 359V360.6 M209.4 255.4H211 M326.6 359V360.6 M209.4 253.2H211 M329.1 359V360.6 M209.4 251.3H211 M331.2 359V360.6 M209.4 249.7H211 M333.0 359V360.6 M209.4 248.3H211 M334.6 359V360.6 M208.2 247H211 M336 359V361.8" stroke="#222" stroke-width="0.9" fill="none"/>
<text x="191.8" y="364.1" font-size="10" textLength="11.6" lengthAdjust="spacingAndGlyphs">10</text>
<text x="203.8" y="359.7" font-size="6.2">0</text>
<text x="191.8" y="335.9" font-size="10" textLength="11.6" lengthAdjust="spacingAndGlyphs">10</text>
<text x="203.8" y="331.5" font-size="6.2">1</text>
<text x="191.8" y="308.3" font-size="10" textLength="11.6" lengthAdjust="spacingAndGlyphs">10</text>
<text x="203.8" y="303.9" font-size="6.2">2</text>
<text x="191.8" y="279.8" font-size="10" textLength="11.6" lengthAdjust="spacingAndGlyphs">10</text>
<text x="203.8" y="275.4" font-size="6.2">3</text>
<text x="191.8" y="254.2" font-size="10" textLength="11.6" lengthAdjust="spacingAndGlyphs">10</text>
<text x="203.8" y="249.8" font-size="6.2">4</text>
<text x="210.7" y="374.2" font-size="10" textLength="11.6" lengthAdjust="spacingAndGlyphs">10</text>
<text x="222.6" y="369.8" font-size="6.2">0</text>
<text x="242.5" y="374.2" font-size="10" textLength="11.6" lengthAdjust="spacingAndGlyphs">10</text>
<text x="254.4" y="369.8" font-size="6.2">1</text>
<text x="273.3" y="374.2" font-size="10" textLength="11.6" lengthAdjust="spacingAndGlyphs">10</text>
<text x="285.2" y="369.8" font-size="6.2">2</text>
<text x="303.3" y="374.2" font-size="10" textLength="11.6" lengthAdjust="spacingAndGlyphs">10</text>
<text x="315.2" y="369.8" font-size="6.2">3</text>
<text x="331.0" y="374.2" font-size="10" textLength="11.6" lengthAdjust="spacingAndGlyphs">10</text>
<text x="342.9" y="369.8" font-size="6.2">4</text>
<g font-size="5.5" fill="#555"><text x="213.5" y="252.2">2.60</text><text x="334" y="252.2" text-anchor="end">1.78</text><text x="213.5" y="357">73.74</text><text x="334" y="357" text-anchor="end">22.46</text></g>
<g clip-path="url(#cp5)"><g filter="url(#stip)">
<rect x="351" y="237" width="148" height="132" fill="#fff"/>
<rect x="356" y="267" width="140" height="100" fill="rgb(247,247,247)" filter="url(#b6)"/>
<path transform="translate(361 247)" d="M-5 105 Q6 62 22 42 Q70 40 140 41 L140 120 L-5 120 Z" fill="rgb(173,173,173)" filter="url(#b2_5)"/>
<rect x="383" y="288.5" width="108" height="38" fill="rgb(76,76,76)" filter="url(#b2_5)"/>
<rect x="441" y="291" width="50" height="34" fill="rgb(107,107,107)" filter="url(#b4)"/>
<rect x="473" y="332" width="20" height="35" fill="rgb(153,153,153)" filter="url(#b4)"/>
<rect x="466" y="329" width="30" height="40" fill="rgb(128,128,128)" filter="url(#b4)"/>
<rect x="356" y="323" width="26" height="45" fill="rgb(173,173,173)" filter="url(#b4)"/>
<rect x="429" y="339" width="10" height="30" fill="rgb(128,128,128)" filter="url(#b3)"/>
<ellipse cx="408" cy="297" rx="15" ry="9.5" fill="rgb(204,204,204)" filter="url(#b2_5)"/>
<path transform="translate(361 247)" d="M28 118 V88 Q28 76 40 76 H58 Q70 76 70 88 V118 Z" fill="rgb(194,194,194)" filter="url(#b2_5)"/>
<path transform="translate(361 247)" d="M75 118 V89 Q75 79 85 79 H95 Q105 79 105 89 V118 Z" fill="rgb(194,194,194)" filter="url(#b2_5)"/>
</g>
<ellipse cx="408" cy="297" rx="13" ry="8" fill="#000" filter="url(#m2_0_65)"/>
<path transform="translate(361 247)" d="M31 116 V90 Q31 79 42 79 H56 Q67 79 67 90 V116 Z" fill="#000" filter="url(#m2_0_6)"/>
<path transform="translate(361 247)" d="M78 116 V91 Q78 82 87 82 H93 Q102 82 102 91 V116 Z" fill="#000" filter="url(#m2_0_6)"/>
</g>
<line x1="361" y1="247" x2="489" y2="247" stroke="#666" stroke-width="1"/>
<line x1="489" y1="247" x2="489" y2="359" stroke="#888" stroke-width="1"/>
<line x1="361" y1="247" x2="361" y2="359" stroke="#444" stroke-width="1"/>
<line x1="361" y1="359" x2="489" y2="359" stroke="#333" stroke-width="1.2"/>
<line x1="436" y1="247" x2="436" y2="359" stroke="#333" stroke-width="1.3"/>
<line x1="361" y1="315" x2="489" y2="315" stroke="#333" stroke-width="1.3"/>
<circle cx="436" cy="315" r="2" fill="#000"/>
<circle cx="361.5" cy="315" r="1.5" fill="#000"/>
<circle cx="436" cy="248" r="1.3" fill="#000"/>
<path d="M358.2 359.0H361 M361.0 359V361.8 M359.4 350.6H361 M370.6 359V360.6 M359.4 345.6H361 M376.3 359V360.6 M359.4 342.1H361 M380.3 359V360.6 M359.4 339.4H361 M383.4 359V360.6 M359.4 337.2H361 M385.9 359V360.6 M359.4 335.3H361 M388.0 359V360.6 M359.4 333.7H361 M389.9 359V360.6 M359.4 332.3H361 M391.5 359V360.6 M358.2 331.0H361 M393.0 359V361.8 M359.4 322.6H361 M402.6 359V360.6 M359.4 317.6H361 M408.3 359V360.6 M359.4 314.1H361 M412.3 359V360.6 M359.4 311.4H361 M415.4 359V360.6 M359.4 309.2H361 M417.9 359V360.6 M359.4 307.3H361 M420.0 359V360.6 M359.4 305.7H361 M421.9 359V360.6 M359.4 304.3H361 M423.5 359V360.6 M358.2 303.0H361 M425.0 359V361.8 M359.4 294.6H361 M434.6 359V360.6 M359.4 289.6H361 M440.3 359V360.6 M359.4 286.1H361 M444.3 359V360.6 M359.4 283.4H361 M447.4 359V360.6 M359.4 281.2H361 M449.9 359V360.6 M359.4 279.3H361 M452.0 359V360.6 M359.4 277.7H361 M453.9 359V360.6 M359.4 276.3H361 M455.5 359V360.6 M358.2 275.0H361 M457.0 359V361.8 M359.4 266.6H361 M466.6 359V360.6 M359.4 261.6H361 M472.3 359V360.6 M359.4 258.1H361 M476.3 359V360.6 M359.4 255.4H361 M479.4 359V360.6 M359.4 253.2H361 M481.9 359V360.6 M359.4 251.3H361 M484.0 359V360.6 M359.4 249.7H361 M485.9 359V360.6 M359.4 248.3H361 M487.5 359V360.6 M358.2 247H361 M489 359V361.8" stroke="#222" stroke-width="0.9" fill="none"/>
<text x="341.8" y="364.1" font-size="10" textLength="11.6" lengthAdjust="spacingAndGlyphs">10</text>
<text x="353.8" y="359.7" font-size="6.2">0</text>
<text x="341.8" y="335.9" font-size="10" textLength="11.6" lengthAdjust="spacingAndGlyphs">10</text>
<text x="353.8" y="331.5" font-size="6.2">1</text>
<text x="341.8" y="308.3" font-size="10" textLength="11.6" lengthAdjust="spacingAndGlyphs">10</text>
<text x="353.8" y="303.9" font-size="6.2">2</text>
<text x="341.8" y="279.8" font-size="10" textLength="11.6" lengthAdjust="spacingAndGlyphs">10</text>
<text x="353.8" y="275.4" font-size="6.2">3</text>
<text x="341.8" y="254.2" font-size="10" textLength="11.6" lengthAdjust="spacingAndGlyphs">10</text>
<text x="353.8" y="249.8" font-size="6.2">4</text>
<text x="360.7" y="374.2" font-size="10" textLength="11.6" lengthAdjust="spacingAndGlyphs">10</text>
<text x="372.6" y="369.8" font-size="6.2">0</text>
<text x="392.2" y="374.2" font-size="10" textLength="11.6" lengthAdjust="spacingAndGlyphs">10</text>
<text x="404.1" y="369.8" font-size="6.2">1</text>
<text x="423.1" y="374.2" font-size="10" textLength="11.6" lengthAdjust="spacingAndGlyphs">10</text>
<text x="435.0" y="369.8" font-size="6.2">2</text>
<text x="452.8" y="374.2" font-size="10" textLength="11.6" lengthAdjust="spacingAndGlyphs">10</text>
<text x="481.1" y="374.2" font-size="10" textLength="11.6" lengthAdjust="spacingAndGlyphs">10</text>
<text x="493.0" y="369.8" font-size="6.2">4</text>
<g font-size="5.5" fill="#555"><text x="363.5" y="252.2">16.91</text><text x="487" y="252.2" text-anchor="end">8.21</text><text x="363.5" y="357">42.64</text><text x="487" y="357" text-anchor="end">8.1</text></g>
<path d="M469.8 183.2 L460.6 191.6 L465.40000000000003 191.6 L465.40000000000003 203.6 L474.2 203.6 L474.2 191.6 L479.0 191.6 Z" fill="#fff" stroke="#000" stroke-width="2.5" stroke-linejoin="miter"/>
<path d="M470.8 347.6 L461.6 356 L466.40000000000003 356 L466.40000000000003 370 L475.2 370 L475.2 356 L480.0 356 Z" fill="#fff" stroke="#000" stroke-width="2.5" stroke-linejoin="miter"/>
<text x="428.2" y="219.6" font-size="13.4">Lin<tspan font-size="9" dy="-3.5">&#8722;</tspan><tspan dy="3.5">Sca-1</tspan><tspan font-size="9" dy="-3">+</tspan></text>
<text x="428.2" y="235.6" font-size="13.8">population</text>
<text x="430.4" y="384.7" font-size="13.4">Lin<tspan font-size="9" dy="-3.5">&#8722;</tspan><tspan dy="3.5">Sca-1</tspan><tspan font-size="9" dy="-3">+</tspan></text>
<text x="430.4" y="400.7" font-size="13.8">population</text>
<text x="10" y="485.2" font-size="27" font-weight="bold" text-anchor="start" fill="#000" >B</text>
<text x="102" y="510" font-size="18.8" font-weight="bold" textLength="140" lengthAdjust="spacingAndGlyphs">Lin<tspan font-size="13" dy="-4">&#8722;</tspan><tspan dy="4">Sca-1</tspan><tspan font-size="12.5" dy="-3.6">+</tspan><tspan dy="3.6"> cells</tspan></text>
<text x="348.6" y="510.2" font-size="18.8" font-weight="bold" textLength="140" lengthAdjust="spacingAndGlyphs">Lin<tspan font-size="13" dy="-4">&#8722;</tspan><tspan dy="4">Sca-1</tspan><tspan font-size="12.5" dy="-3.6">+</tspan><tspan dy="3.6"> cells</tspan></text>
<line x1="70.1" y1="540.3000000000001" x2="70.1" y2="764.2" stroke="#000" stroke-width="2.6"/>
<line x1="70.1" y1="755.2" x2="261.6" y2="755.2" stroke="#000" stroke-width="2.8"/>
<line x1="101.7" y1="755.2" x2="101.7" y2="763.7" stroke="#000" stroke-width="2.6"/>
<line x1="133.3" y1="755.2" x2="133.3" y2="763.7" stroke="#000" stroke-width="2.6"/>
<line x1="164.9" y1="755.2" x2="164.9" y2="763.7" stroke="#000" stroke-width="2.6"/>
<line x1="196.5" y1="755.2" x2="196.5" y2="763.7" stroke="#000" stroke-width="2.6"/>
<line x1="228.1" y1="755.2" x2="228.1" y2="763.7" stroke="#000" stroke-width="2.6"/>
<line x1="259.7" y1="755.2" x2="259.7" y2="763.7" stroke="#000" stroke-width="2.6"/>
<line x1="62.599999999999994" y1="755.2" x2="70.1" y2="755.2" stroke="#000" stroke-width="2.6"/>
<text x="60.3" y="761.7" font-size="18" font-weight="bold" text-anchor="end">0</text>
<line x1="62.599999999999994" y1="719.6" x2="70.1" y2="719.6" stroke="#000" stroke-width="2.6"/>
<text x="60.3" y="726.1" font-size="18" font-weight="bold" text-anchor="end">5</text>
<line x1="62.599999999999994" y1="683.9" x2="70.1" y2="683.9" stroke="#000" stroke-width="2.6"/>
<text x="60.3" y="690.4" font-size="18" font-weight="bold" text-anchor="end">10</text>
<line x1="62.599999999999994" y1="648.2" x2="70.1" y2="648.2" stroke="#000" stroke-width="2.6"/>
<text x="60.3" y="654.8" font-size="18" font-weight="bold" text-anchor="end">15</text>
<line x1="62.599999999999994" y1="612.6" x2="70.1" y2="612.6" stroke="#000" stroke-width="2.6"/>
<text x="60.3" y="619.1" font-size="18" font-weight="bold" text-anchor="end">20</text>
<line x1="62.599999999999994" y1="577.0" x2="70.1" y2="577.0" stroke="#000" stroke-width="2.6"/>
<text x="60.3" y="583.5" font-size="18" font-weight="bold" text-anchor="end">25</text>
<line x1="62.599999999999994" y1="541.3" x2="70.1" y2="541.3" stroke="#000" stroke-width="2.6"/>
<text x="60.3" y="547.8" font-size="18" font-weight="bold" text-anchor="end">30</text>
<text x="89.6" y="785.5" font-size="17.2">0 day</text>
<text x="146.6" y="785.5" font-size="17.2">2 days</text>
<text x="211.4" y="785.5" font-size="17.2">4 days</text>
<polyline points="101.7,728.5 164.9,589.4 228.1,594.8" fill="none" stroke="#000" stroke-width="3.2"/>
<polyline points="101.7,736.7 164.9,682.5 228.1,689.2" fill="none" stroke="#000" stroke-width="3.2" stroke-dasharray="9 4"/>
<path d="M164.9 576.6V602.3M162.3 576.6h5.2M162.3 602.3h5.2" stroke="#000" stroke-width="1.6" fill="none"/>
<path d="M228.1 586.9V602.6M225.5 586.9h5.2M225.5 602.6h5.2" stroke="#000" stroke-width="1.6" fill="none"/>
<path d="M164.9 677.5V687.5M162.3 677.5h5.2M162.3 687.5h5.2" stroke="#000" stroke-width="1.6" fill="none"/>
<path d="M228.1 687.8V690.7M225.5 687.8h5.2M225.5 690.7h5.2" stroke="#000" stroke-width="1.6" fill="none"/>
<text x="161.1" y="618.8000000000001" font-size="19.5" letter-spacing="0.6" stroke="#000" stroke-width="0.3">**</text>
<text x="219.9" y="621.2" font-size="19.5" letter-spacing="0.6" stroke="#000" stroke-width="0.3">**</text>
<line x1="78.5" y1="542.2" x2="106.2" y2="542.2" stroke="#000" stroke-width="3.4" stroke-dasharray="9.5 2.5"/>
<line x1="78.5" y1="559.5" x2="106.2" y2="559.5" stroke="#000" stroke-width="3.4"/>
<text x="121.5" y="547.7" font-size="17">Slug+/+</text>
<text x="121.5" y="564.7" font-size="17">Slug-/-</text>
<line x1="326" y1="539.1" x2="326" y2="764.7" stroke="#000" stroke-width="2.6"/>
<line x1="326" y1="755.7" x2="517.5" y2="755.7" stroke="#000" stroke-width="2.8"/>
<line x1="357.6" y1="755.7" x2="357.6" y2="764.2" stroke="#000" stroke-width="2.6"/>
<line x1="389.2" y1="755.7" x2="389.2" y2="764.2" stroke="#000" stroke-width="2.6"/>
<line x1="420.8" y1="755.7" x2="420.8" y2="764.2" stroke="#000" stroke-width="2.6"/>
<line x1="452.4" y1="755.7" x2="452.4" y2="764.2" stroke="#000" stroke-width="2.6"/>
<line x1="484.0" y1="755.7" x2="484.0" y2="764.2" stroke="#000" stroke-width="2.6"/>
<line x1="515.6" y1="755.7" x2="515.6" y2="764.2" stroke="#000" stroke-width="2.6"/>
<line x1="318.5" y1="755.7" x2="326" y2="755.7" stroke="#000" stroke-width="2.6"/>
<text x="316.2" y="762.2" font-size="18" font-weight="bold" text-anchor="end">0</text>
<line x1="318.5" y1="701.8" x2="326" y2="701.8" stroke="#000" stroke-width="2.6"/>
<text x="316.2" y="708.3" font-size="18" font-weight="bold" text-anchor="end">5</text>
<line x1="318.5" y1="647.9" x2="326" y2="647.9" stroke="#000" stroke-width="2.6"/>
<text x="316.2" y="654.4" font-size="18" font-weight="bold" text-anchor="end">10</text>
<line x1="318.5" y1="594.0" x2="326" y2="594.0" stroke="#000" stroke-width="2.6"/>
<text x="316.2" y="600.5" font-size="18" font-weight="bold" text-anchor="end">15</text>
<line x1="318.5" y1="540.1" x2="326" y2="540.1" stroke="#000" stroke-width="2.6"/>
<text x="316.2" y="546.6" font-size="18" font-weight="bold" text-anchor="end">20</text>
<text x="345.3" y="785.5" font-size="17.2">0 day</text>
<text x="401.0" y="785.5" font-size="17.2">2 days</text>
<text x="462.2" y="785.5" font-size="17.2">4 days</text>
<polyline points="357.6,744.9 420.8,644.7 484.0,588.6" fill="none" stroke="#000" stroke-width="3.2"/>
<polyline points="357.6,747.8 420.8,707.2 484.0,680.2" fill="none" stroke="#000" stroke-width="3.2" stroke-dasharray="9 4"/>
<path d="M420.8 642.5V646.8M418.2 642.5h5.2M418.2 646.8h5.2" stroke="#000" stroke-width="1.6" fill="none"/>
<path d="M484.0 586.5V590.8M481.4 586.5h5.2M481.4 590.8h5.2" stroke="#000" stroke-width="1.6" fill="none"/>
<path d="M420.8 701.8V712.6M418.2 701.8h5.2M418.2 712.6h5.2" stroke="#000" stroke-width="1.6" fill="none"/>
<path d="M484.0 679.2V681.3M481.4 679.2h5.2M481.4 681.3h5.2" stroke="#000" stroke-width="1.6" fill="none"/>
<text x="418.4" y="669.2" font-size="19.5" letter-spacing="0.6" stroke="#000" stroke-width="0.3">**</text>
<text x="476.9" y="614.7" font-size="19.5" letter-spacing="0.6" stroke="#000" stroke-width="0.3">**</text>
<line x1="346.2" y1="546.3" x2="373.9" y2="546.3" stroke="#000" stroke-width="3.4" stroke-dasharray="9.5 2.5"/>
<line x1="346.2" y1="563.5999999999999" x2="373.9" y2="563.5999999999999" stroke="#000" stroke-width="3.4"/>
<text x="389.8" y="551.8" font-size="17">Slug+/+</text>
<text x="389.8" y="568.8" font-size="17">Slug-/-</text>
<text transform="translate(33.2 719.6) rotate(-90)" font-size="21" font-weight="bold" textLength="144" lengthAdjust="spacingAndGlyphs">% of total cells</text>
<text transform="translate(286.7 759.9) rotate(-90)" font-size="21" font-weight="bold" textLength="162.5" lengthAdjust="spacingAndGlyphs">Numbers of cells</text>
<text transform="translate(286.7 588.8) rotate(-90)" font-size="20">(x10<tspan font-size="14.5" dy="-10">5</tspan><tspan dy="10">)</tspan></text>
</svg></body></html>
